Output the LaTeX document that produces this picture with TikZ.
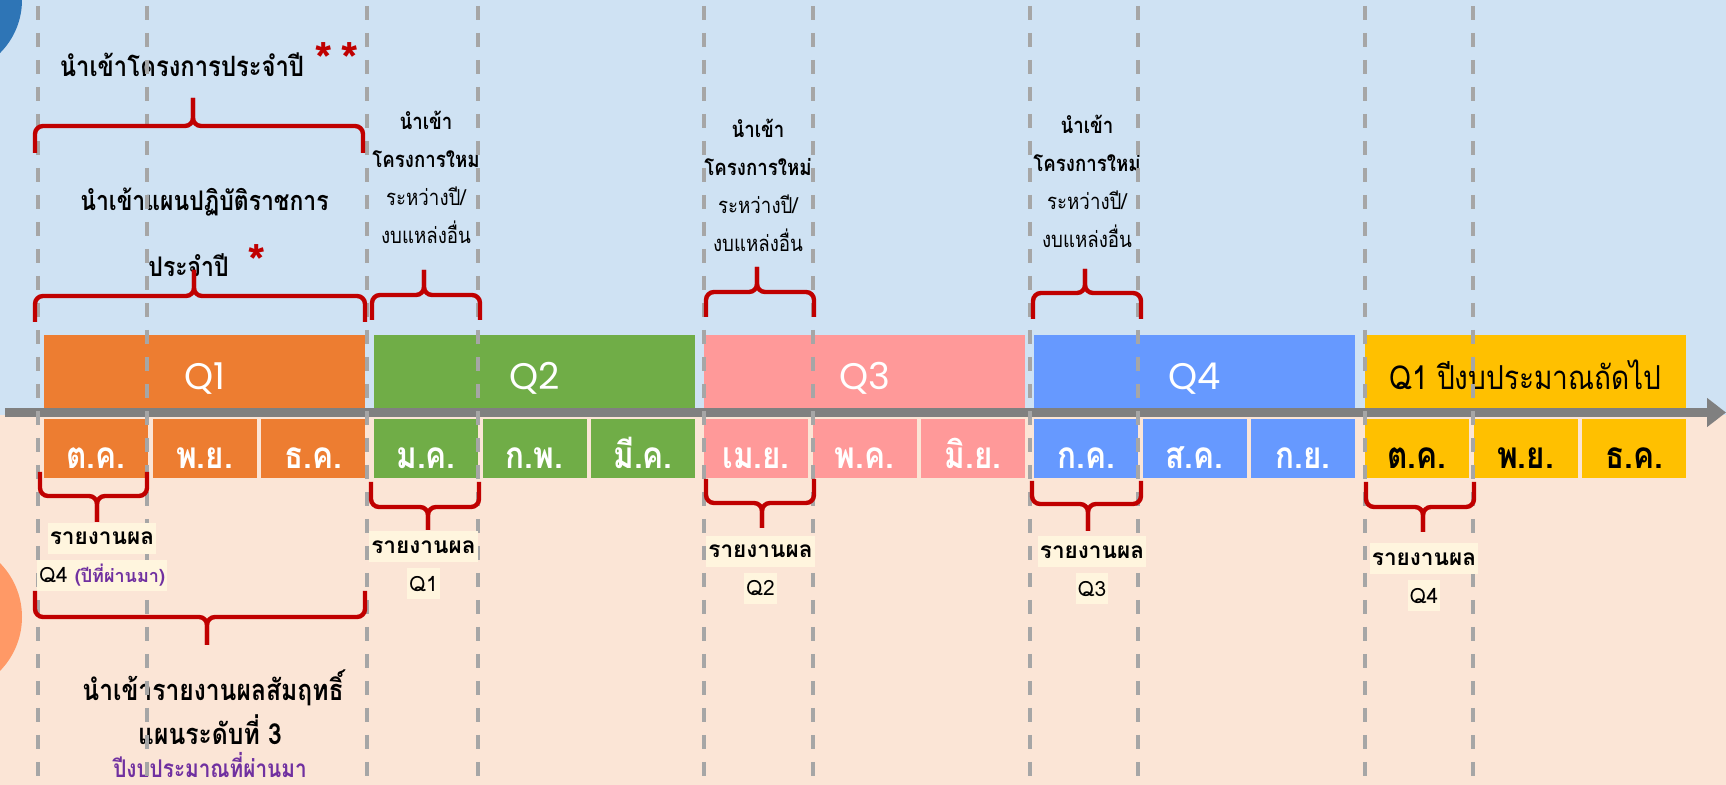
\documentclass[tikz,border=0pt]{standalone}
\usepackage{fontspec}
\setmainfont[Script=Thai]{Loma}
\newfontfamily\slim[Script=Thai,FakeStretch=0.85]{Loma}
\newfontfamily\qfont{Poppins}
\usepackage{tikz}
\usetikzlibrary{arrows.meta,positioning}

\definecolor{bgtop}{HTML}{CFE2F3}
\definecolor{bgbot}{HTML}{FBE5D6}
\definecolor{circblue}{HTML}{2E75B6}
\definecolor{circorange}{HTML}{FF9966}
\definecolor{qone}{HTML}{ED7D31}
\definecolor{qtwo}{HTML}{70AD47}
\definecolor{qthree}{HTML}{FF9999}
\definecolor{qfour}{HTML}{6699FF}
\definecolor{qfive}{HTML}{FFC000}
\definecolor{axisgray}{HTML}{808080}
\definecolor{dashgray}{HTML}{A6A6A6}
\definecolor{bracered}{HTML}{C00000}
\definecolor{purp}{HTML}{7030A0}
\definecolor{tagbg}{HTML}{FFF5DE}

% curly bracket: x1, tip x, x2, y of the ends, y of the bar, y of the tip
\newcommand\curly[6]{%
  \draw[brc] (#1,#4) -- (#1,#5) -- (#2,#5) -- (#2,#6);
  \draw[brc] (#3,#4) -- (#3,#5) -- (#2,#5) -- (#2,#6);}

\begin{document}
\begin{tikzpicture}[x=0.5pt,y=-0.5pt,
    qbox/.style={minimum width=160.5pt,minimum height=36.5pt,inner sep=0pt,
      text height=18.5pt,text depth=0pt,font=\qfont\fontsize{18.5}{20}\selectfont},
    mbox/.style={minimum width=52pt,minimum height=29.5pt,inner sep=0pt,
      text height=20pt,text depth=0pt,font=\slim\bfseries\fontsize{18.5}{22}\selectfont},
    brc/.style={draw=bracered,line width=2.2pt,rounded corners=4pt},
    vline/.style={draw=dashgray,line width=2pt,dash pattern=on 7pt off 6.5pt},
    axisline/.style={draw=axisgray,line width=4.5pt,-{Triangle[length=9.5pt,width=14pt]}},
    tag/.style={fill=tagbg,inner xsep=1pt,inner ysep=0pt,minimum height=15.5pt,
      font=\bfseries\fontsize{11.3}{14}\selectfont},
    qtag/.style={tag,font=\fontsize{10.5}{12}\selectfont},
    head/.style={font=\slim\bfseries\fontsize{13.5}{16}\selectfont},
    star/.style={text=bracered,font=\bfseries\fontsize{24}{26}\selectfont},
    note/.style={align=center,font=\slim\fontsize{11}{19}\selectfont}]
  \useasboundingbox (0,0) rectangle (1726,785);
  \fill[bgtop] (0,0) rectangle (1726,415);
  \fill[bgbot] (0,415) rectangle (1726,785);
  \fill[circblue] (-53,0) circle[radius=37.5pt];
  \fill[circorange] (-55,617) circle[radius=38.5pt];

  % time line
  \coordinate (tl) at (5,412.5);
  \coordinate (tr) at (1726,412.5);
  \draw[axisline] (tl) -- (tr);

  % quarters and months
  \foreach \n/\xs/\col/\tc/\txt/\ma/\mb/\mc in {
      1/44/qone/white/Q1/ต.ค./พ.ย./ธ.ค.,
      2/374/qtwo/white/Q2/ม.ค./ก.พ./มี.ค.,
      3/704/qthree/white/Q3/เม.ย./พ.ค./มิ.ย.,
      4/1034/qfour/white/Q4/ก.ค./ส.ค./ก.ย.,
      5/1365/qfive/black/{\slim\fontsize{16.5}{20}\selectfont Q1 ปีงบประมาณถัดไป}/ต.ค./พ.ย./ธ.ค.} {
    \node[qbox,fill=\col,text=\tc] (q\n) at (\xs+160.5,371.5) {\txt};
    \node[mbox,fill=\col,text=\tc] (q\n-a) at (\xs+52,448.5) {\ma};
    \node[mbox,fill=\col,text=\tc] (q\n-b) at (\xs+160.5,448.5) {\mb};
    \node[mbox,fill=\col,text=\tc] (q\n-c) at (\xs+269,448.5) {\mc};
  }

  \node[head,font=\slim\bfseries\fontsize{14}{16}\selectfont] (plan) at (182,65) {นำเข้าโครงการประจำปี};
  \node[star] (plan-s) at (337,60) {*\,*};
  \node[head] (ops) at (204.5,202) {นำเข้าแผนปฏิบัติราชการ};
  \node[head] (ops-b) at (188.5,265) {ประจำปี};
  \node[star] (ops-s) at (257,262) {*};

  \node[note] (new1) at (426,177) {\textbf{นำเข้า}\\\textbf{โครงการใหม่}\\ระหว่างปี/\\งบแหล่งอื่น};
  \node[note] (new2) at (758,185) {\textbf{นำเข้า}\\\textbf{โครงการใหม่}\\ระหว่างปี/\\งบแหล่งอื่น};
  \node[note] (new3) at (1087,181) {\textbf{นำเข้า}\\\textbf{โครงการใหม่}\\ระหว่างปี/\\งบแหล่งอื่น};

  \node[head,font=\slim\bfseries\fontsize{14.5}{16}\selectfont] (res) at (213,688) {นำเข้ารายงานผลสัมฤทธิ์};
  \node[head,font=\slim\bfseries\fontsize{14.5}{16}\selectfont] (res-b) at (210,730) {แผนระดับที่ 3};
  \node[head,inner sep=0pt,text=purp,font=\slim\bfseries\fontsize{12.2}{14}\selectfont] (res-c) at (210,765) {ปีงบประมาณที่ผ่านมา};

  \foreach \x in {38,147,367,478,704,813,1030,1138,1365,1473}
    \draw[vline] (\x,6) -- (\x,785);

  % reports
  \node[tag] (rep0) at (102,538.5) {รายงานผล};
  \node[qtag,below=2.5pt of rep0] (rep0-q) {Q4\ \textcolor{purp}{\bfseries\fontsize{9}{11}\selectfont(ปีที่ผ่านมา)}};
  \foreach \n/\x/\y in {1/423.5/547,2/760.5/551.5,3/1092/552,4/1424/559} {
    \node[tag] (rep\n) at (\x,\y) {รายงานผล};
    \node[qtag,below=2.5pt of rep\n] (rep\n-q) {Q\n};
  }

  % brackets
  \curly{35}{193}{363}{153}{126}{98}
  \curly{35}{194}{365}{322}{296}{270}
  \curly{372}{424}{480}{320}{295}{270}
  \curly{706}{757}{814}{317}{292}{267}
  \curly{1033}{1085}{1141}{319}{293}{269}
  \curly{40}{97}{147}{472}{496}{522}
  \curly{371}{428}{479}{482}{507}{530}
  \curly{706}{762}{814}{479}{503}{528}
  \curly{1032}{1088}{1141}{481}{504}{531}
  \curly{1366}{1423}{1474}{482}{507}{532}
  \curly{35}{207}{365}{591}{617}{645}
\end{tikzpicture}
\end{document}
